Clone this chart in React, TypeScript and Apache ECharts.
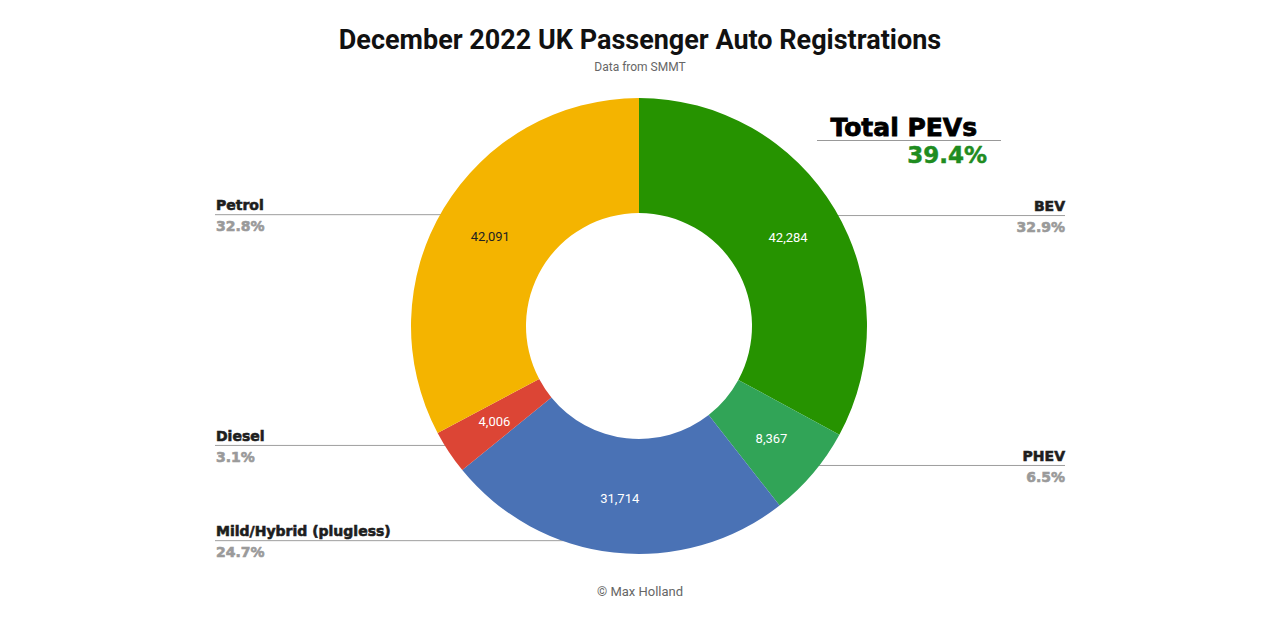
import React, { useEffect, useRef } from "react";
import * as echarts from "echarts";

const categories = ["BEV", "PHEV", "Mild/Hybrid (plugless)", "Diesel", "Petrol"];
const registrations = [42284, 8367, 31714, 4006, 42091];
const sliceColors = ["#269300", "#31a457", "#4a72b5", "#dc4535", "#f4b400"];
const valueLabelColors = ["#ffffff", "#ffffff", "#ffffff", "#ffffff", "#222222"];
const pevCategories = ["BEV", "PHEV"];

const TITLE = "December 2022 UK Passenger Auto Registrations";
const SUBTITLE = "Data from SMMT";
const CREDIT = "© Max Holland";

const CX = 639;
const CY = 326;
const R_OUT = 228;
const R_IN = 113;
const LEFT_EDGE = 215;
const RIGHT_EDGE = 1065;

export default function App() {
  const ref = useRef<HTMLDivElement>(null);

  useEffect(() => {
    if (!ref.current) return;
    const chart = echarts.init(ref.current, null, { renderer: "svg" });
    const total = registrations.reduce((a, b) => a + b, 0);
    const pevTotal = categories.reduce(
      (s, c, i) => (pevCategories.includes(c) ? s + registrations[i] : s),
      0
    );
    const pevPct = ((pevTotal / total) * 100).toFixed(1) + "%";

    const data = categories.map((name, i) => ({
      name,
      value: registrations[i],
      itemStyle: { color: sliceColors[i] },
      label: { color: valueLabelColors[i] },
    }));

    const outerData = categories.map((name, i) => ({
      name,
      value: registrations[i],
    }));

    chart.setOption({
      animation: false,
      backgroundColor: "#ffffff",
      title: [
        {
          text: TITLE,
          left: "center",
          top: 21,
          textStyle: {
            fontFamily: "Roboto",
            fontWeight: "bold",
            fontSize: 27,
            color: "#111111",
          },
        },
        {
          text: SUBTITLE,
          left: "center",
          top: 56,
          textStyle: {
            fontFamily: "Roboto",
            fontWeight: "normal",
            fontSize: 12,
            color: "#666666",
          },
        },
        {
          text: CREDIT,
          left: "center",
          top: 580,
          textStyle: {
            fontFamily: "Roboto",
            fontWeight: "normal",
            fontSize: 13,
            color: "#666666",
          },
        },
      ],
      graphic: [
        {
          type: "text",
          left: 830,
          top: 115,
          style: {
            text: "Total PEVs",
            font: "bold 25px 'DejaVu Sans'",
            fill: "#000000",
            stroke: "#000000",
            lineWidth: 0.8,
          },
        },
        {
          type: "line",
          shape: { x1: 817, y1: 140.5, x2: 1001, y2: 140.5 },
          style: { stroke: "#999999", lineWidth: 1 },
        },
        {
          type: "text",
          left: 907,
          top: 143,
          style: {
            text: pevPct,
            font: "bold 23px 'DejaVu Sans'",
            fill: "#1f8c1f",
            stroke: "#1f8c1f",
            lineWidth: 0.5,
          },
        },
      ],
      series: [
        {
          type: "pie",
          center: [CX, CY],
          radius: [R_IN, R_OUT],
          startAngle: 90,
          clockwise: true,
          silent: true,
          data,
          label: {
            show: true,
            position: "inside",
            fontFamily: "Roboto",
            fontSize: 13,
            formatter: (p: any) => Number(p.value).toLocaleString("en-US"),
          },
          labelLine: { show: false },
        },
        {
          type: "pie",
          center: [CX, CY],
          radius: [R_IN, R_OUT],
          startAngle: 90,
          clockwise: true,
          silent: true,
          data: outerData,
          itemStyle: { color: "rgba(0,0,0,0)" },
          label: {
            show: true,
            position: "outside",
            formatter: (p: any) => `{n|${p.name}}\n{p|${p.percent.toFixed(1)}%}`,
            rich: {
              n: {
                fontFamily: "DejaVu Sans",
                fontWeight: "bold",
                fontSize: 14,
                color: "#1e1e1e",
                textBorderColor: "#1e1e1e",
                textBorderWidth: 0.6,
                lineHeight: 21,
              },
              p: {
                fontFamily: "DejaVu Sans",
                fontWeight: "bold",
                fontSize: 14,
                color: "#9a9a9a",
                textBorderColor: "#9a9a9a",
                textBorderWidth: 0.6,
                lineHeight: 21,
              },
            },
          },
          labelLine: {
            show: true,
            length: 10,
            length2: 10,
            lineStyle: { color: "#9e9e9e", width: 1 },
          },
          labelLayout: (params: any) => {
            const pts = params.labelLinePoints;
            if (!pts || !pts.length) return {};
            const p0 = pts[0];
            const k = 216 / R_OUT;
            const ax = CX + (p0[0] - CX) * k;
            const ay = CY + (p0[1] - CY) * k;
            const left = p0[0] < CX;
            const ex = left ? LEFT_EDGE : RIGHT_EDGE;
            return {
              x: left ? LEFT_EDGE + 1 : RIGHT_EDGE,
              y: ay + 1,
              align: left ? "left" : "right",
              verticalAlign: "middle",
              labelLinePoints: [
                [ax, ay],
                [ax, ay],
                [ex, ay],
              ],
            };
          },
        },
      ],
    });

    return () => chart.dispose();
  }, []);

  return (
    <div
      ref={ref}
      style={{ position: "fixed", left: 0, top: 0, width: 1280, height: 627 }}
    />
  );
}
